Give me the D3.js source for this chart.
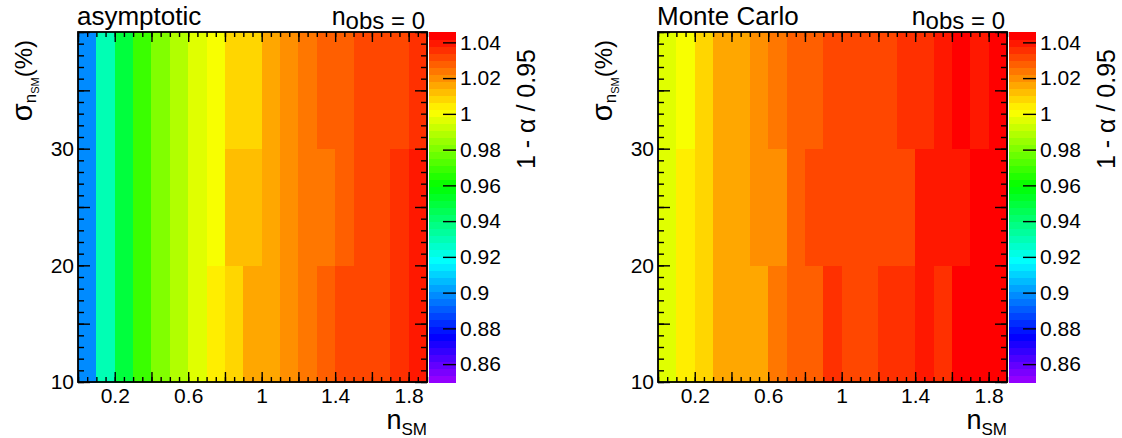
<!DOCTYPE html>
<html><head><meta charset="utf-8">
<script src="https://cdn.jsdelivr.net/npm/d3@7"></script>
<style>
body{margin:0;background:#fff}
svg{display:block}
text{font-family:"Liberation Sans",Arial,Helvetica,sans-serif;fill:#000}
</style>
</head><body>
<svg id="chart" width="1122" height="438"></svg>
<script>
// ---- data ----
const nSMEdges = [0,0.1,0.2,0.3,0.4,0.5,0.6,0.7,0.8,0.9,1.0,1.1,1.2,1.3,1.4,1.5,1.6,1.7,1.8,1.9];
const sigmaEdges = [10,20,30,40];
// asymptotic, rows by sigma bin
const asymSigma10 = [0.899,0.930,0.950,0.970,0.981,0.989,0.997,1.005,1.009,1.017,1.017,1.021,1.024,1.028,1.032,1.032,1.032,1.036,1.040];
const asymSigma20 = [0.899,0.930,0.950,0.970,0.981,0.989,0.997,1.001,1.013,1.013,1.017,1.021,1.024,1.024,1.028,1.032,1.032,1.036,1.040];
const asymSigma30 = [0.899,0.930,0.950,0.970,0.981,0.989,0.997,1.001,1.009,1.009,1.017,1.021,1.024,1.028,1.028,1.032,1.032,1.032,1.036];
// Monte Carlo
const mcSigma10 = [0.997,1.005,1.009,1.017,1.017,1.017,1.024,1.028,1.028,1.036,1.032,1.032,1.036,1.036,1.040,1.036,1.044,1.044,1.044];
const mcSigma20 = [0.997,1.005,1.009,1.017,1.017,1.021,1.021,1.028,1.032,1.032,1.032,1.032,1.032,1.032,1.040,1.040,1.040,1.044,1.044];
const mcSigma30 = [0.997,1.001,1.009,1.017,1.017,1.021,1.024,1.028,1.028,1.032,1.032,1.032,1.032,1.036,1.036,1.040,1.044,1.040,1.044];

const panelTitles = ["asymptotic","Monte Carlo"];
const xTickLabels = [0.2,0.6,1,1.4,1.8];
const yTickLabels = [10,20,30];
const zTickLabels = [0.86,0.88,0.9,0.92,0.94,0.96,0.98,1,1.02,1.04];
const zRange = [0.85,1.0458];
const nColors = 50;

// ---- palette (ROOT "pretty" violet -> red) ----
const palette = d3.range(nColors).map(i => i < nColors-1
  ? d3.hsl(280 - (i+1)*(280/nColors), 1, 0.5).formatHex()
  : "#ff0000");
const zColor = d3.scaleQuantize().domain(zRange).range(palette);

const svg = d3.select("#chart");
const panels = [
  {title: panelTitles[0], rows: [asymSigma10, asymSigma20, asymSigma30], off: 0},
  {title: panelTitles[1], rows: [mcSigma10, mcSigma20, mcSigma30], off: 580}
];

panels.forEach(p => {
  const x0 = 78 + p.off, x1 = 427 + p.off, y0 = 32, y1 = 382;
  const cx0 = 429 + p.off, cx1 = 456 + p.off;
  const xs = d3.scaleLinear().domain([nSMEdges[0], nSMEdges[nSMEdges.length-1]]).range([x0, x1]);
  const ys = d3.scaleLinear().domain([sigmaEdges[0], sigmaEdges[sigmaEdges.length-1]]).range([y1, y0]);
  const zs = d3.scaleLinear().domain(zRange).range([y1, y0]);
  const g = svg.append("g");

  // cells
  p.rows.forEach((row, r) => {
    g.append("g").selectAll("rect").data(row).join("rect")
      .attr("x", (d,c) => xs(nSMEdges[c]))
      .attr("width", (d,c) => xs(nSMEdges[c+1]) - xs(nSMEdges[c]) + 0.5)
      .attr("y", ys(sigmaEdges[r+1]))
      .attr("height", ys(sigmaEdges[r]) - ys(sigmaEdges[r+1]) + 0.5)
      .attr("fill", d => zColor(d))
      .attr("shape-rendering","crispEdges");
  });

  // color bar
  const step = (zRange[1]-zRange[0])/nColors;
  g.append("g").selectAll("rect").data(palette).join("rect")
    .attr("x", cx0).attr("width", cx1-cx0)
    .attr("y", (d,k) => zs(zRange[0] + (k+1)*step))
    .attr("height", (d,k) => zs(zRange[0] + k*step) - zs(zRange[0] + (k+1)*step) + 0.5)
    .attr("fill", d => d)
    .attr("shape-rendering","crispEdges");

  const xMinor = d3.range(0, 1.9001, 0.05);
  const xMajor = d3.range(0, 1.9001, 0.2);
  const yMinor = d3.range(10, 40.001, 1);
  const yMajor = d3.range(10, 40.001, 5);

  const axisStyle = sel => {
    sel.select(".domain").remove();
    sel.selectAll("line").attr("stroke","#000").attr("stroke-width",1.4);
    sel.selectAll("text").style("font-size","21px").attr("fill","#000");
  };

  // bottom
  g.append("g").attr("transform",`translate(0,${y1})`)
    .call(d3.axisBottom(xs).tickValues(xMinor).tickSize(-5).tickFormat("")).call(axisStyle);
  g.append("g").attr("transform",`translate(0,${y1})`)
    .call(d3.axisBottom(xs).tickValues(xMajor).tickSize(-10).tickFormat("")).call(axisStyle);
  g.append("g").attr("transform",`translate(0,${y1})`)
    .call(d3.axisBottom(xs).tickValues(xTickLabels).tickSize(0).tickPadding(6).tickFormat(d => String(d))).call(axisStyle);
  // top
  g.append("g").attr("transform",`translate(0,${y0})`)
    .call(d3.axisTop(xs).tickValues(xMinor).tickSize(-5).tickFormat("")).call(axisStyle);
  g.append("g").attr("transform",`translate(0,${y0})`)
    .call(d3.axisTop(xs).tickValues(xMajor).tickSize(-10).tickFormat("")).call(axisStyle);
  // left
  g.append("g").attr("transform",`translate(${x0},0)`)
    .call(d3.axisLeft(ys).tickValues(yMinor).tickSize(-6).tickFormat("")).call(axisStyle);
  g.append("g").attr("transform",`translate(${x0},0)`)
    .call(d3.axisLeft(ys).tickValues(yMajor).tickSize(-12).tickFormat("")).call(axisStyle);
  g.append("g").attr("transform",`translate(${x0},0)`)
    .call(d3.axisLeft(ys).tickValues(yTickLabels).tickSize(0).tickPadding(4).tickFormat(d => String(d))).call(axisStyle);
  // right
  g.append("g").attr("transform",`translate(${x1},0)`)
    .call(d3.axisRight(ys).tickValues(yMinor).tickSize(-6).tickFormat("")).call(axisStyle);
  g.append("g").attr("transform",`translate(${x1},0)`)
    .call(d3.axisRight(ys).tickValues(yMajor).tickSize(-12).tickFormat("")).call(axisStyle);

  // frame
  g.append("rect").attr("x",x0).attr("y",y0).attr("width",x1-x0).attr("height",y1-y0)
    .attr("fill","none").attr("stroke","#000").attr("stroke-width",1.8);

  // color bar axis
  g.append("g").attr("transform",`translate(${cx1},0)`)
    .call(d3.axisRight(zs).tickValues(zTickLabels).tickSize(-13).tickPadding(4).tickFormat(d3.format(".2~f")))
    .call(axisStyle);

  // titles
  g.append("text").attr("x", x0-1).attr("y", 25).style("font-size","26px").text(p.title);
  const nt = g.append("text").attr("x", x1-2).attr("y", 25).attr("text-anchor","end").attr("xml:space","preserve");
  nt.append("tspan").style("font-size","25px").text("n");
  nt.append("tspan").style("font-size","24px").attr("dy",4).text("obs = 0");

  // y title
  const yt = g.append("text").attr("transform",`translate(${32+p.off},40) rotate(-90)`).attr("text-anchor","end");
  yt.append("tspan").style("font-size","29px").text("σ");
  yt.append("tspan").style("font-size","17px").attr("dy",4).text("n");
  yt.append("tspan").style("font-size","11px").attr("dy",3).text("SM");
  yt.append("tspan").style("font-size","24px").attr("dy",-7).text("(%)");

  // x title
  const xt = g.append("text").attr("x", x1).attr("y", 429).attr("text-anchor","end");
  xt.append("tspan").style("font-size","27px").text("n");
  xt.append("tspan").style("font-size","17px").attr("dy",6).text("SM");

  // z title
  g.append("text").attr("transform",`translate(${535+p.off},49) rotate(-90)`).attr("text-anchor","end")
    .style("font-size","25px").text("1 - α / 0.95");
});
</script>
</body></html>
